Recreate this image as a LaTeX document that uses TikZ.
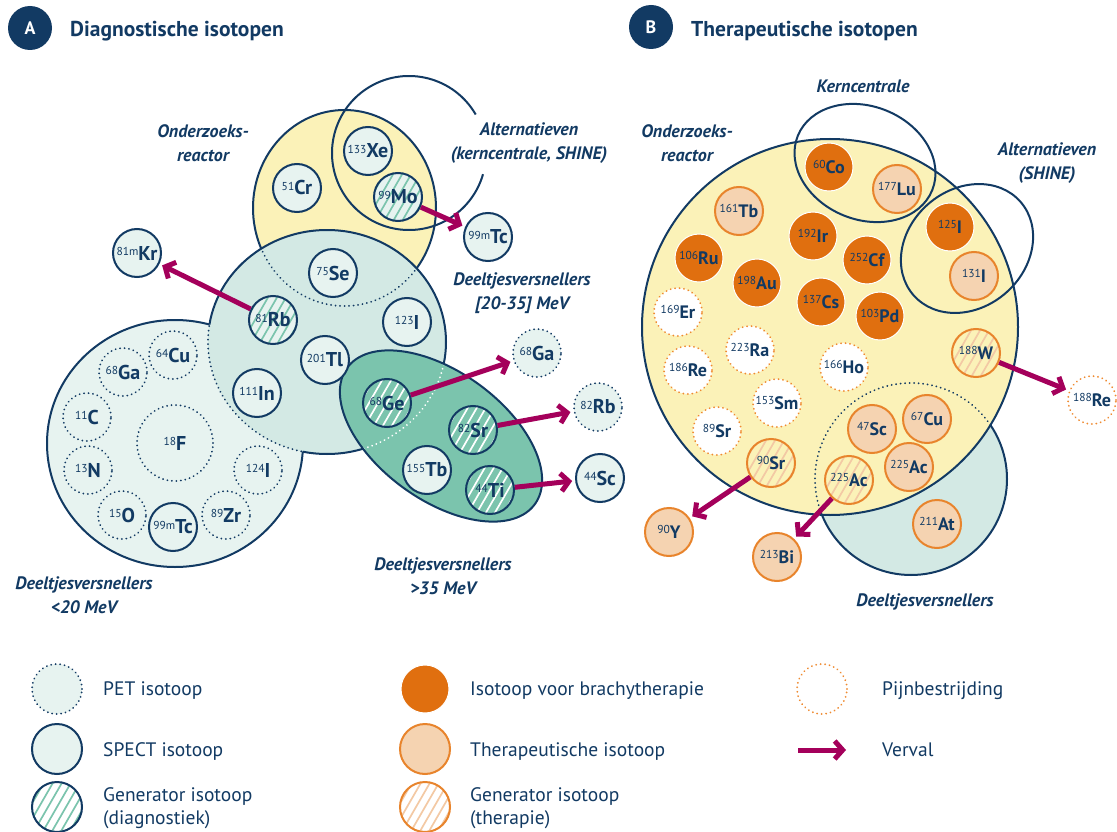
\documentclass[tikz,border=0pt]{standalone}
\usepackage{fontspec}
\setmainfont{PT Sans}
\usetikzlibrary{arrows.meta}
\definecolor{navy}{HTML}{123A63}
\definecolor{mint}{HTML}{E7F3F0}
\definecolor{tealm}{HTML}{D3E9E4}
\definecolor{greenf}{HTML}{7BC4AD}
\definecolor{hgreen}{HTML}{7BC4AD}
\definecolor{yellowc}{HTML}{FBF2B8}
\definecolor{orD}{HTML}{E06F0F}
\definecolor{orB}{HTML}{E8842C}
\definecolor{orL}{HTML}{F5D3B1}
\definecolor{orH}{HTML}{F3C9A4}
\definecolor{orP}{HTML}{EF8A30}
\definecolor{magentac}{HTML}{A4005B}
\newcommand\sut[1]{\raisebox{4.6pt}{\fontsize{11.5}{11.5}\selectfont\mdseries #1}}
\newcommand\lab[2]{\makebox[0pt]{\sut{#1}#2}}
\begin{document}
\begin{tikzpicture}[x=1pt,y=-1pt,
 region/.style={draw=navy, line width=2pt},
 dotline/.style={line width=2pt, dash pattern=on 0.01pt off 4.5pt, line cap=round},
 iso/.style={circle, minimum size=48pt, inner sep=0pt, text=navy, font=\fontsize{18}{18}\selectfont\bfseries},
 bigl/.style={font=\fontsize{20}{20}\selectfont\bfseries},
 hatch/.style={path picture={\foreach \k in {-72,-63,...,72}{\draw[#1, line width=1.7pt, solid] ([shift={(\k-15,26)}]path picture bounding box.center) -- ([shift={(\k+15,-26)}]path picture bounding box.center);}}},
 pet/.style={iso, fill=mint, draw=navy, dotline, bigl},
 spect/.style={iso, fill=mint, draw=navy, line width=2pt, bigl},
 gend/.style={spect, hatch=hgreen},
 gendg/.style={iso, fill=greenf, draw=navy, line width=2pt, hatch=white, bigl},
 brachy/.style={iso, fill=orD, draw=white, line width=1pt},
 ther/.style={iso, fill=orL, draw=orB, line width=2pt},
 gent/.style={iso, draw=orB, line width=2pt, hatch=orH},
 pain/.style={iso, fill=white, draw=orP, dotline},
 reglab/.style={text=navy, align=center, font=\fontsize{18}{24}\selectfont\bfseries\itshape},
 legtext/.style={text=navy, align=left, inner sep=0pt, font=\fontsize{19.5}{23}\selectfont},
 badge/.style={circle, fill=navy, minimum size=44pt, inner sep=0pt, text=white, font=\fontsize{18}{18}\selectfont\bfseries},
 title/.style={anchor=base west, inner sep=0pt, text=navy, font=\fontsize{21.5}{21.5}\selectfont\bfseries},
 verval/.style={draw=magentac, line width=5pt, -{Straight Barb[length=8pt,width=18pt]}, shorten >=3pt},
]
\fill[white] (0,0) rectangle (1117,832);
\useasboundingbox (0,0) rectangle (1117,832);

% ---------------- Panel A regions ----------------
\fill[yellowc] (344.5,208) ellipse [x radius=91.5, y radius=98];
\draw[region] (344.5,208) ellipse [x radius=91.5, y radius=98];
\fill[mint] (175,443.5) ellipse [x radius=128, y radius=123.5];
\draw[region] (175,443.5) ellipse [x radius=128, y radius=123.5];
\fill[tealm] (327,342) ellipse [x radius=119, y radius=112];
\begin{scope}
 \clip (-50,-50) -- (-50,900) -- (1200,900) -- (1200,-50) -- cycle (175,443.5) ellipse [x radius=128, y radius=123.5];
 \draw[region] (327,342) ellipse [x radius=119, y radius=112];
\end{scope}
\begin{scope}
 \clip (327,342) ellipse [x radius=119, y radius=112];
 \draw[navy, dotline] (344.5,208) ellipse [x radius=91.5, y radius=98];
\end{scope}
\begin{scope}
 \clip (175,443.5) ellipse [x radius=128, y radius=123.5];
 \draw[navy, dotline] (327,342) ellipse [x radius=119, y radius=112];
\end{scope}
\fill[greenf, rotate around={-36:(441,436)}] (441,436) ellipse [x radius=116, y radius=64];
\begin{scope}[rotate around={-36:(441,436)}]
 \clip (441,436) ellipse [x radius=116, y radius=64];
 \begin{scope}[rotate around={36:(441,436)}]
  \draw[white, dotline] (327,342) ellipse [x radius=119, y radius=112];
 \end{scope}
\end{scope}
\draw[region, rotate around={-36:(441,436)}] (441,436) ellipse [x radius=116, y radius=64];
\draw[region] (409,153) ++(-30:77) arc[start angle=-30, end angle=-344, radius=77];

% ---------------- Panel B regions ----------------
\fill[tealm] (911,479) circle[radius=96];
\draw[region] (911,479) circle[radius=96];
\fill[yellowc] (830,327) circle[radius=188];
\draw[region] (830,327) circle[radius=188];
\begin{scope}
 \clip (830,327) circle[radius=188];
 \draw[navy, dotline] (911,479) circle[radius=96];
\end{scope}
\draw[region, rotate around={-22:(865,163)}] (865,163) ellipse [x radius=72.5, y radius=56.6];
\draw[region, rotate around={41:(967,248.5)}] (967,248.5) ellipse [x radius=71, y radius=59];

% ---------------- Titles ----------------
\node[badge] (bA) at (30,28) {A};
\node[title] (tA) at (70,37) {Diagnostische isotopen};
\node[badge] (bB) at (651,27) {B};
\node[title] (tB) at (691,37) {Therapeutische isotopen};

% ---------------- Panel A isotopes ----------------
\node[spect] (Xe) at (368,151) {\lab{133}{Xe}};
\node[gend] (Mo) at (398,197) {\lab{99}{Mo}};
\node[spect] (Cr) at (297,188) {\lab{51}{Cr}};
\node[spect] (TcA) at (488,237) {\lab{99m}{Tc}};
\node[spect] (Kr) at (137,253) {\lab{81m}{Kr}};
\node[spect] (Se) at (333,273) {\lab{75}{Se}};
\node[gend] (RbA) at (273,320) {\lab{81}{Rb}};
\node[spect] (IA) at (407,322) {\lab{123}{I}};
\node[spect] (Tl) at (325,360) {\lab{201}{Tl}};
\node[spect] (In) at (257,393) {\lab{111}{In}};
\node[pet] (Cu) at (173,355) {\lab{64}{Cu}};
\node[pet] (GaL) at (123,372) {\lab{68}{Ga}};
\node[pet] (C) at (87,417) {\lab{11}{C}};
\node[pet, minimum size=76pt] (F) at (175,443) {\lab{18}{F}};
\node[pet] (N) at (88,470) {\lab{13}{N}};
\node[pet] (IL) at (258,470) {\lab{124}{I}};
\node[pet] (O) at (122,515) {\lab{15}{O}};
\node[spect] (TcL) at (173,527) {\lab{99m}{Tc}};
\node[pet] (Zr) at (226,515) {\lab{89}{Zr}};
\node[gendg] (Ge) at (387,403) {\lab{68}{Ge}};
\node[gendg] (Sr) at (473,430) {\lab{82}{Sr}};
\node[spect] (Tb) at (427,470) {\lab{155}{Tb}};
\node[gendg] (Ti) at (490,490) {\lab{44}{Ti}};
\node[pet] (GaR) at (537,353) {\lab{68}{Ga}};
\node[pet] (RbR) at (598,407) {\lab{82}{Rb}};
\node[spect] (Sc) at (600,478) {\lab{44}{Sc}};

\draw[verval] (Mo) -- (TcA);
\draw[verval] (RbA) -- (Kr);
\draw[verval] (Ge) -- (GaR);
\draw[verval] (Sr) -- (RbR);
\draw[verval] (Ti) -- (Sc);

\node[reglab] (lOA) at (203,143) {Onderzoeks-\\reactor};
\node[reglab] (lAA) at (529,143) {Alternatieven\\(kerncentrale, SHINE)};
\node[reglab] (lD2) at (522,293) {Deeltjesversnellers\\{[}20-35{]} MeV};
\node[reglab] (lD3) at (443,576) {Deeltjesversnellers\\>35 MeV};
\node[reglab] (lD1) at (84,595) {Deeltjesversnellers\\<20 MeV};

% ---------------- Panel B isotopes ----------------
\node[brachy] (Co) at (829,167) {\lab{60}{Co}};
\node[ther] (Lu) at (897,189) {\lab{177}{Lu}};
\node[ther] (TbB) at (739,211) {\lab{161}{Tb}};
\node[brachy] (Ir) at (813,236) {\lab{192}{Ir}};
\node[brachy] (Cf) at (867,260) {\lab{252}{Cf}};
\node[brachy] (Ru) at (699,258) {\lab{106}{Ru}};
\node[brachy] (Au) at (757,283) {\lab{198}{Au}};
\node[brachy] (Cs) at (821,302) {\lab{137}{Cs}};
\node[brachy] (Pd) at (880,316) {\lab{103}{Pd}};
\node[brachy] (I125) at (950,227) {\lab{125}{I}};
\node[ther] (I131) at (974,276) {\lab{131}{I}};
\node[pain] (Er) at (678,312) {\lab{169}{Er}};
\node[pain] (Ra) at (750,350) {\lab{223}{Ra}};
\node[pain] (Re186) at (688,370) {\lab{186}{Re}};
\node[pain] (Ho) at (844,367) {\lab{166}{Ho}};
\node[pain] (Sm) at (777,403) {\lab{153}{Sm}};
\node[pain] (Sr89) at (717,431) {\lab{89}{Sr}};
\node[gent] (W) at (976,353) {\lab{188}{W}};
\node[pain] (Re188) at (1092,400) {\lab{188}{Re}};
\node[gent] (Sr90) at (771,463) {\lab{90}{Sr}};
\node[ther] (ScB) at (872,429) {\lab{47}{Sc}};
\node[ther] (CuB) at (927,419) {\lab{67}{Cu}};
\node[ther] (Ac) at (909,467) {\lab{225}{Ac}};
\node[gent] (AcH) at (849,480) {\lab{225}{Ac}};
\node[ther] (At) at (937,524) {\lab{211}{At}};
\node[ther] (Y) at (669,532) {\lab{90}{Y}};
\node[ther] (Bi) at (777,557) {\lab{213}{Bi}};

\draw[verval] (W) -- (Re188);
\draw[verval] (Sr90) -- (Y);
\draw[verval] (AcH) -- (Bi);

\node[reglab] (lK) at (863,86) {Kerncentrale};
\node[reglab] (lOB) at (687,143) {Onderzoeks-\\reactor};
\node[reglab] (lAB) at (1047,163) {Alternatieven\\(SHINE)};
\node[reglab] (lDB) at (925,602) {Deeltjesversnellers};

% ---------------- Legend ----------------
\node[pet, minimum size=50pt] (gPET) at (57,689) {};
\node[spect, minimum size=50pt] (gSPECT) at (57,749) {};
\node[gend, fill=white, minimum size=50pt] (gGD) at (57,807) {};
\node[brachy, minimum size=48pt] (gBr) at (425,689) {};
\node[ther, minimum size=50pt] (gTh) at (425,749) {};
\node[gent, fill=white, minimum size=50pt] (gGT) at (425,807) {};
\node[pain, minimum size=50pt] (gPain) at (822,689) {};
\coordinate (vA) at (798,750);
\coordinate (vB) at (846,750);
\draw[verval, shorten >=0pt] (vA) -- (vB);

\node[legtext, anchor=base west] (tPET) at (103,695) {PET isotoop};
\node[legtext, anchor=base west] (tSPECT) at (103,756) {SPECT isotoop};
\node[legtext, anchor=west] (tGD) at (103,808) {Generator isotoop\\(diagnostiek)};
\node[legtext, anchor=base west] (tBr) at (470,695) {Isotoop voor brachytherapie};
\node[legtext, anchor=base west] (tTh) at (470,756) {Therapeutische isotoop};
\node[legtext, anchor=west] (tGT) at (470,808) {Generator isotoop\\(therapie)};
\node[legtext, anchor=base west] (tPain) at (882,695) {Pijnbestrijding};
\node[legtext, anchor=base west] (tV) at (882,756) {Verval};
\end{tikzpicture}
\end{document}
